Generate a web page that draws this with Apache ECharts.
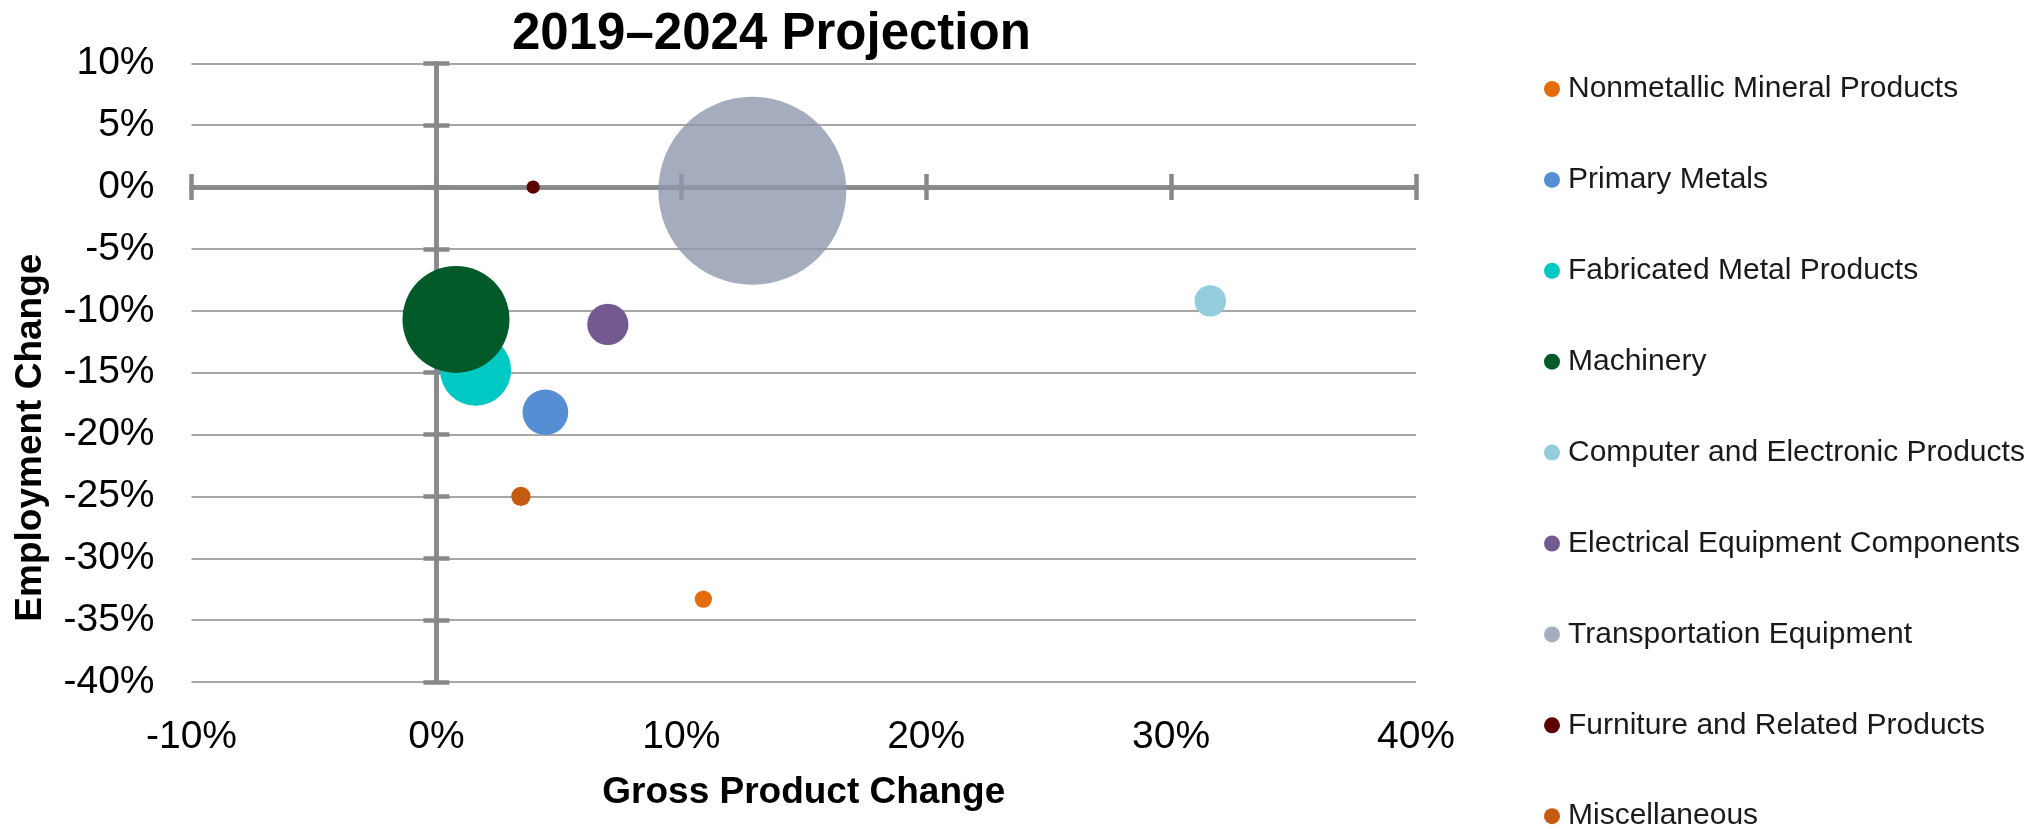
<!DOCTYPE html>
<html>
<head>
<meta charset="utf-8">
<title>2019–2024 Projection</title>
<script src="https://cdn.jsdelivr.net/npm/echarts@6/dist/echarts.min.js"></script>
<style>
  html, body { margin: 0; padding: 0; background: #ffffff; }
  #chart { width: 2041px; height: 829px; }
</style>
</head>
<body>
<div id="chart"></div>
<script>
// Manufacturing subsectors, 2019–2024 projection
const industries = [
  'Nonmetallic Mineral Products',
  'Primary Metals',
  'Fabricated Metal Products',
  'Machinery',
  'Computer and Electronic Products',
  'Electrical Equipment Components',
  'Transportation Equipment',
  'Furniture and Related Products',
  'Miscellaneous'
];
// Gross product change, percent
const grossProductChange = [10.9, 4.45, 1.6, 0.8, 31.6, 7.0, 12.9, 3.95, 3.45];
// Employment change, percent
const employmentChange = [-33.3, -18.2, -14.8, -10.7, -9.2, -11.1, -0.3, 0.0, -25.0];
// Relative industry size (bubble area)
const industrySize = [0.85, 5.9, 14.3, 32.4, 2.8, 4.8, 100, 0.5, 1.05];

// Axis ranges and tick steps, percent
const xTicks = { min: -10, max: 40, step: 10 };
const yTicks = { min: -40, max: 10, step: 5 };

const palette = ['#E46C0A', '#558ED5', '#00C8C3', '#025A29', '#93CDDD', '#725A91', '#8F97AD', '#5E0000', '#C55A11'];
const FONT = "'Liberation Sans', Arial, sans-serif";
const AXIS_GRAY = '#898989';
const MAX_BUBBLE = 188;
const maxSize = Math.max.apply(null, industrySize);

const series = industries.map((name, i) => ({
  name: name,
  type: 'scatter',
  xAxisIndex: 0,
  yAxisIndex: 0,
  data: [[grossProductChange[i], employmentChange[i], industrySize[i]]],
  // bubble area proportional to industry size
  symbolSize: v => MAX_BUBBLE * Math.sqrt(v[2] / maxSize),
  itemStyle: { color: palette[i], opacity: name === 'Transportation Equipment' ? 0.8 : 1 },
  emphasis: { disabled: true },
  z: 3
}));

function valueAxis(t, extra) {
  return Object.assign({
    type: 'value',
    min: t.min,
    max: t.max,
    interval: t.step,
    gridIndex: 0,
    splitLine: { show: false },
    axisLabel: { show: false },
    axisTick: { show: false },
    axisLine: { show: false, onZero: false }
  }, extra);
}

const crossLine = { show: true, onZero: true, onZeroAxisIndex: 0, lineStyle: { color: AXIS_GRAY, width: 4.5 } };
const crossTick = inside => ({ show: true, inside: inside, length: 13, lineStyle: { color: AXIS_GRAY, width: 4.5 } });

// Legend column: the last entry runs to the bottom edge, so it is placed as its own block
const LEGEND_TOP = 72;
const LEGEND_STEP = 90.9;
const LEGEND_LINE = 34;
const legendBase = {
  orient: 'vertical',
  left: 1544,
  padding: 0,
  itemGap: LEGEND_STEP - LEGEND_LINE,
  itemWidth: 22,
  itemHeight: 16,
  icon: 'circle',
  selectedMode: false,
  textStyle: { fontFamily: FONT, fontSize: 30, lineHeight: LEGEND_LINE, color: '#1a1a1a' }
};
const mainCount = industries.length - 1;

const option = {
  animation: false,
  backgroundColor: '#ffffff',
  title: {
    text: '2019–2024 Projection',
    left: 512,
    top: 9,
    padding: 0,
    textStyle: { fontFamily: FONT, fontSize: 51, fontWeight: 'bold', color: '#000000' }
  },
  legend: [
    Object.assign({}, legendBase, { top: LEGEND_TOP, data: industries.slice(0, mainCount) }),
    Object.assign({}, legendBase, { top: LEGEND_TOP + mainCount * LEGEND_STEP, data: industries.slice(mainCount) })
  ],
  grid: { left: 191.5, right: 625, top: 63.3, bottom: 147, containLabel: false },
  xAxis: [
    valueAxis(xTicks, {
      position: 'bottom',
      name: 'Gross Product Change',
      nameLocation: 'middle',
      nameGap: 92,
      nameTextStyle: { fontFamily: FONT, fontSize: 37, fontWeight: 'bold', color: '#000000' },
      axisLabel: { show: true, formatter: '{value}%', margin: 36, fontFamily: FONT, fontSize: 39, color: '#000000' }
    }),
    valueAxis(xTicks, { position: 'bottom', axisLine: crossLine, axisTick: crossTick(false) }),
    valueAxis(xTicks, { position: 'bottom', axisLine: crossLine, axisTick: crossTick(true) })
  ],
  yAxis: [
    valueAxis(yTicks, {
      position: 'left',
      name: 'Employment Change',
      nameLocation: 'middle',
      nameRotate: 90,
      nameGap: 142,
      nameTextStyle: { fontFamily: FONT, fontSize: 37, fontWeight: 'bold', color: '#000000', padding: [0, 130, 0, 0] },
      splitLine: { show: true, lineStyle: { color: '#a6a6a6', width: 2 } },
      axisLabel: { show: true, formatter: '{value}%', margin: 37, fontFamily: FONT, fontSize: 39, color: '#000000' }
    }),
    valueAxis(yTicks, { position: 'left', axisLine: crossLine, axisTick: crossTick(false) }),
    valueAxis(yTicks, { position: 'left', axisLine: crossLine, axisTick: crossTick(true) })
  ],
  series: series
};

const chart = echarts.init(document.getElementById('chart'), null, { renderer: 'canvas' });
chart.setOption(option);
</script>
</body>
</html>
